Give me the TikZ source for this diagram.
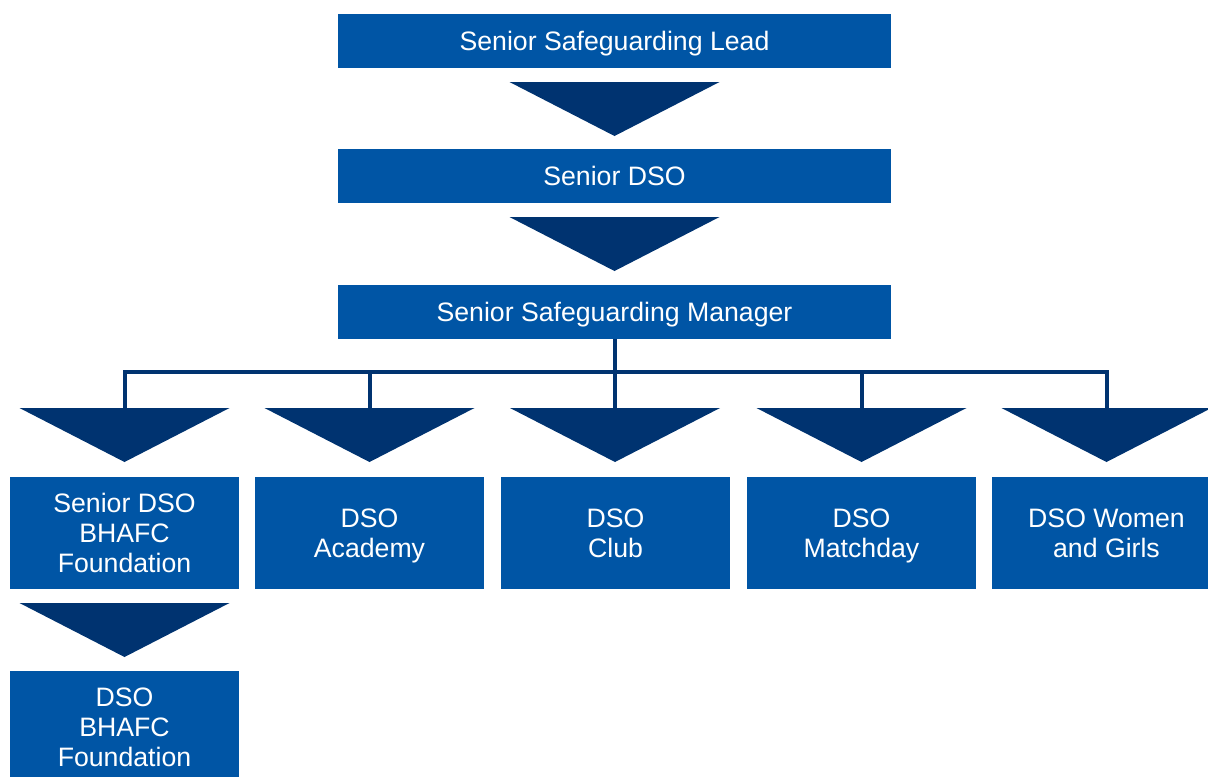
\documentclass[tikz,border=0pt]{standalone}
\usepackage{fontspec}
\setmainfont{Liberation Sans}
\usetikzlibrary{calc}
\definecolor{boxblue}{RGB}{0,85,165}
\definecolor{navy}{RGB}{0,51,112}
% invisible rules that centre the capitals of a text block in its box
\newcommand\capup{\rule{0pt}{18.8pt}}
\newcommand\capdown{\rule[-4.4pt]{0pt}{4.4pt}}
\begin{document}
\begin{tikzpicture}[x=0.75pt,y=-0.75pt,
  basebox/.style={fill=boxblue,text=white,inner sep=0pt,outer sep=0pt,
    align=center,font=\fontsize{20}{22.5}\selectfont},
  widebox/.style={basebox,minimum width=414.75pt,minimum height=40.5pt},
  rowbox/.style={basebox,minimum width=171.75pt,minimum height=84pt},
  conn/.style={draw=navy,line width=3pt,line join=miter},
  pics/downtri/.style={code={\fill[navy] (-105,0) -- (105,0) -- (0,54) -- cycle;}}]
\useasboundingbox (0,0) rectangle (1208,776);
\clip (0,0) rectangle (1208,776);

% chain of senior roles
\node[widebox] (lead) at (614.5,41) {\capup Senior Safeguarding Lead\capdown};
\node[widebox] (sdso) at (614.5,176) {\capup Senior DSO\capdown};
\node[widebox] (ssm)  at (614.5,311.5) {\capup Senior Safeguarding Manager\capdown};

% designated safeguarding officers
\node[rowbox] (fdn) at (124.5,533) {\capup Senior DSO\\BHAFC\\Foundation\capdown};
\node[rowbox] (aca) at (369.5,533) {\capup DSO\\Academy\capdown};
\node[rowbox] (clb) at (615.5,533) {\capup DSO\\Club\capdown};
\node[rowbox] (mtd) at (861.5,533) {\capup DSO\\Matchday\capdown};
\node[rowbox] (wag) at (1106.5,533) {\capup DSO Women\\and Girls\capdown};
\node[rowbox] (dfd) at (124.5,727) {\capup DSO\\BHAFC\\Foundation\capdown};

% tops of the arrow heads in the branch row
\coordinate (t1) at (124.5,408);
\coordinate (t2) at (369.5,408);
\coordinate (t3) at (615,408);
\coordinate (t4) at (861.5,408);
\coordinate (t5) at (1106.5,408);
\coordinate (bus) at (615,372);

% branching connector
\draw[conn] (ssm.south) -- (ssm.south |- bus);
\draw[conn] (t1) -- (t1 |- bus) -- (t5 |- bus) -- (t5);
\draw[conn] (t2 |- bus) -- (t2);
\draw[conn] (t3 |- bus) -- (t3);
\draw[conn] (t4 |- bus) -- (t4);

% arrow heads
\pic at ($(lead.south)+(0,14)$) {downtri};
\pic at ($(sdso.south)+(0,14)$) {downtri};
\foreach \t in {t1,t2,t3,t4,t5} \pic at (\t) {downtri};
\pic at ($(fdn.south)+(0,14)$) {downtri};
\end{tikzpicture}
\end{document}
